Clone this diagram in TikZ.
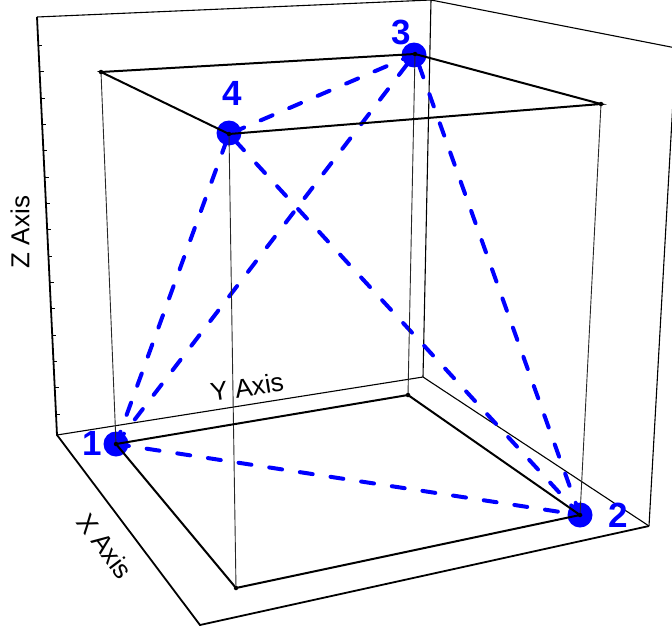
\documentclass[tikz,border=0pt]{standalone}
\usepackage{fontspec}
\setmainfont{Liberation Sans}
\usetikzlibrary{calc}

\begin{document}
\begin{tikzpicture}[
    x=1pt, y=-1pt,
    frame/.style={line width=1.8pt},
    backline/.style={line width=1.1pt},
    edge/.style={line width=2pt},
    post/.style={line width=0.9pt, black!85},
    link/.style={blue, line width=4pt, line cap=round, dash pattern=on 13pt off 18pt},
    pt/.style={circle, fill=blue, inner sep=0pt, minimum size=25pt},
    vtx/.style={circle, fill=black, inner sep=0pt, minimum size=4.5pt},
    num/.style={text=blue, inner sep=0pt, font=\fontsize{35}{35}\selectfont\bfseries},
    axlab/.style={inner sep=0pt, font=\fontsize{26}{26}\selectfont}
]
\useasboundingbox (0,0) rectangle (672,629);
\clip (0,0) rectangle (672,629);

% plot frame
\coordinate (o) at (57,435);
\coordinate (xe) at (200,625);
\coordinate (xy) at (649,526);
\coordinate (ye) at (423,377);
\coordinate (zt) at (37,17);
\coordinate (yt) at (431,0);
\coordinate (xyt) at (676,48);

\draw[backline] (o) -- (ye) -- (xy);
\draw[backline] (ye) -- (yt) -- (xyt) -- (xy);
\draw[backline] (zt) -- (yt);
\draw[frame] (zt) -- (o) -- (xe) -- (xy);
\foreach \t in {0,...,14}
    \draw[line width=0.8pt] ($(o)!0.05+0.0630*\t!(zt)$) -- ++(4,0);

% data box corners and points
\coordinate (b1) at (101,72);
\coordinate (b2) at (601,104);
\coordinate (b3) at (408,395);
\coordinate (b4) at (236,588);
\coordinate (d1) at (116,444);
\coordinate (d2) at (580,515);
\coordinate (d3) at (415,54);
\coordinate (d4) at (229,134);

% links between the points
\draw[link] (d1) -- (d2);
\draw[link] (d1) -- (d3);
\draw[link] (d1) -- (d4);
\draw[link] (d2) -- (d3);
\draw[link] (d2) -- (d4);
\draw[link] (d3) -- (d4);

\node[pt] (p1) at (d1) {};
\node[pt] (p2) at (d2) {};
\node[pt] (p3) at ($(d3)+(-1,1)$) {};
\node[pt] (p4) at ($(d4)+(0,-1)$) {};

% box edges
\draw[post] (b1) -- (d1);
\draw[post] (d4) -- (b4);
\draw[post] (d3) -- (b3);
\draw[post] (b2) -- (d2);
\draw[edge] (d1) -- (b4) -- (d2) -- (b3) -- cycle;
\draw[edge] (b1) -- (d3) -- (b2) -- (d4) -- cycle;

\foreach \c in {b1,b2,b3,b4,d1,d2,d3,d4}
    \node[vtx] at (\c) {};

% labels
\node[num] (n1) at (92,443) {1};
\node[num] (n2) at (618,515) {2};
\node[num] (n3) at (401,32) {3};
\node[num] (n4) at (232,93) {4};

\node[axlab, rotate=-53] (xlab) at (105,546) {X Axis};
\node[axlab, rotate=9] (ylab) at (247,387) {Y Axis};
\node[axlab, rotate=90] (zlab) at (20,232) {Z Axis};
\end{tikzpicture}
\end{document}
